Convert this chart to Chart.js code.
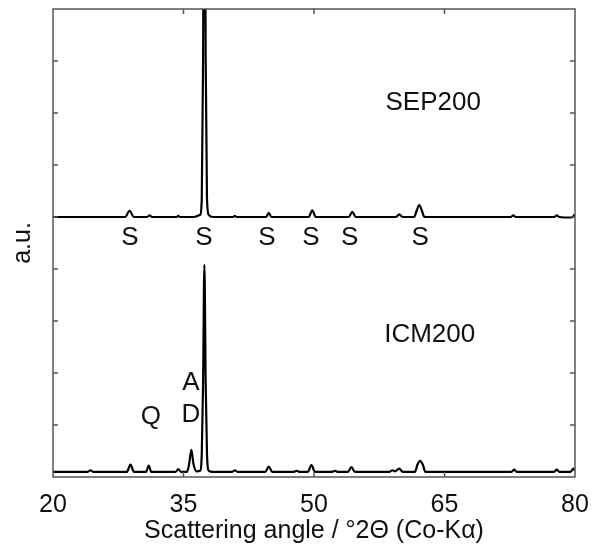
<!DOCTYPE html>
<html>
<head>
<meta charset="utf-8">
<script src="https://cdn.jsdelivr.net/npm/chart.js@4"></script>
<style>
  body { margin: 0; background: #fff; }
</style>
</head>
<body>
<canvas id="xrdChart" width="593" height="549"></canvas>
<script>
// scattering angle (deg 2theta) and intensity (a.u.)
const sepAngles = [20, 24, 28.3, 28.8, 29.3, 30.8, 31.1, 31.4, 34.2, 34.4, 34.6, 36.2, 36.9, 37.1, 37.25, 37.4, 37.55, 37.7, 37.9, 38.4,
    40.7, 40.9, 41.1, 44.5, 44.8, 45.1, 49.4, 49.8, 50.2, 54.0, 54.4, 54.8, 59.4, 59.8, 60.2, 61.5, 61.8, 62.1, 62.4, 62.7,
    72.6, 72.9, 73.2, 77.6, 77.9, 78.2, 79.6, 80];
const sepValues = [5.0, 5.0, 5.0, 5.12, 5.0, 5.0, 5.03, 5.0, 5.0, 5.02, 5.0, 5.0, 5.04, 5.35, 8.0, 14.0, 8.0, 5.35, 5.04, 5.0,
    5.0, 5.02, 5.0, 5.0, 5.08, 5.0, 5.0, 5.13, 5.0, 5.0, 5.1, 5.0, 5.0, 5.05, 5.0, 5.0, 5.12, 5.23, 5.12, 5.0,
    5.0, 5.03, 5.0, 5.0, 5.03, 5.0, 4.99, 5.05];

const icmAngles = [20, 24.0, 24.3, 24.6, 28.5, 28.9, 29.3, 30.7, 31.0, 31.3, 34.1, 34.4, 34.7, 35.4, 35.65, 35.9, 36.15, 36.5,
    36.9, 37.1, 37.25, 37.4, 37.55, 37.7, 37.9, 38.4, 40.6, 40.9, 41.2, 44.4, 44.8, 45.2, 47.7, 48.0, 48.3, 49.3, 49.7, 50.1,
    52.1, 52.4, 52.7, 53.9, 54.3, 54.7, 58.7, 59.0, 59.3, 59.8, 60.2, 61.6, 61.9, 62.2, 62.5, 62.8,
    72.7, 73.0, 73.3, 77.6, 77.9, 78.2, 79.5, 79.8, 80];
const icmValues = [0.1, 0.1, 0.13, 0.1, 0.1, 0.24, 0.1, 0.1, 0.22, 0.1, 0.1, 0.15, 0.1, 0.1, 0.25, 0.52, 0.25, 0.11,
    0.12, 0.45, 1.8, 4.08, 1.8, 0.45, 0.12, 0.1, 0.1, 0.13, 0.1, 0.1, 0.2, 0.1, 0.1, 0.12, 0.1, 0.1, 0.23, 0.1,
    0.1, 0.12, 0.1, 0.1, 0.19, 0.1, 0.1, 0.13, 0.11, 0.16, 0.1, 0.1, 0.24, 0.31, 0.24, 0.1,
    0.1, 0.14, 0.1, 0.1, 0.14, 0.1, 0.1, 0.16, 0.12];

const xTicks = [20, 35, 50, 65, 80];

// phase markers and sample names, in data coordinates
const noteTexts = ['SEP200', 'ICM200', 'S', 'S', 'S', 'S', 'S', 'S', 'Q', 'A', 'D'];
const noteX = [63.7, 63.3, 28.85, 37.36, 44.6, 49.65, 54.1, 62.2, 31.26, 35.86, 35.86];
const noteY = [7.19, 2.73, 4.6, 4.6, 4.6, 4.6, 4.6, 4.6, 1.15, 1.81, 1.19];

const FONT = '"Liberation Sans", Arial, sans-serif';

function toPoints(xs, ys) {
    return xs.map((x, i) => ({ x: x, y: ys[i] }));
}

// frame with inward ticks + text labels
const framePlugin = {
    id: 'frame',
    afterDraw(chart) {
        const ctx = chart.ctx;
        const a = chart.chartArea;
        const xs = chart.scales.x;
        const ys = chart.scales.y;
        const tl = 5;
        ctx.save();
        ctx.strokeStyle = '#555';
        ctx.lineWidth = 1.5;
        ctx.strokeRect(a.left, a.top, a.right - a.left, a.bottom - a.top);
        ctx.beginPath();
        xTicks.slice(1, -1).forEach(v => {
            const px = xs.getPixelForValue(v);
            ctx.moveTo(px, a.bottom); ctx.lineTo(px, a.bottom - tl);
            ctx.moveTo(px, a.top); ctx.lineTo(px, a.top + tl);
        });
        for (let v = 1; v < 9; v++) {
            const py = ys.getPixelForValue(v);
            ctx.moveTo(a.left, py); ctx.lineTo(a.left + tl, py);
            ctx.moveTo(a.right, py); ctx.lineTo(a.right - tl, py);
        }
        ctx.stroke();

        ctx.fillStyle = '#111';
        ctx.font = '26px ' + FONT;
        ctx.textAlign = 'center';
        ctx.textBaseline = 'middle';
        noteTexts.forEach((t, i) => {
            ctx.fillText(t, xs.getPixelForValue(noteX[i]), ys.getPixelForValue(noteY[i]));
        });
        ctx.restore();
    }
};

const ctx = document.getElementById('xrdChart').getContext('2d');
new Chart(ctx, {
    type: 'line',
    data: {
        datasets: [{
            label: 'SEP200',
            data: toPoints(sepAngles, sepValues),
            borderColor: '#000',
            borderWidth: 2.2,
            pointRadius: 0,
            cubicInterpolationMode: 'monotone',
            fill: false
        }, {
            label: 'ICM200',
            data: toPoints(icmAngles, icmValues),
            borderColor: '#000',
            borderWidth: 2.2,
            pointRadius: 0,
            cubicInterpolationMode: 'monotone',
            fill: false
        }]
    },
    options: {
        responsive: false,
        animation: false,
        devicePixelRatio: 1,
        layout: { padding: { top: 9, right: 18, left: 0, bottom: 0 } },
        plugins: { legend: { display: false }, tooltip: { enabled: false } },
        scales: {
            x: {
                type: 'linear',
                min: 20,
                max: 80,
                afterBuildTicks: axis => { axis.ticks = xTicks.map(v => ({ value: v })); },
                afterFit: axis => {
                    axis.height = 72;
                    axis.paddingLeft = 0;
                    axis.paddingRight = 0;
                },
                grid: { display: false, drawTicks: false },
                border: { display: false },
                ticks: { color: '#111', padding: 13, font: { size: 25, family: FONT }, maxRotation: 0 },
                title: {
                    display: true,
                    text: 'Scattering angle / °2Θ (Co-Kα)',
                    color: '#111',
                    font: { size: 25, family: FONT },
                    padding: { top: 0, bottom: 3 }
                }
            },
            y: {
                min: 0,
                max: 9,
                afterFit: axis => { axis.width = 53; },
                grid: { display: false, drawTicks: false },
                border: { display: false },
                ticks: { display: false },
                title: {
                    display: true,
                    text: 'a.u.',
                    color: '#111',
                    font: { size: 25, family: FONT },
                    padding: { top: 8, bottom: 8 }
                }
            }
        }
    },
    plugins: [framePlugin]
});
</script>
</body>
</html>
